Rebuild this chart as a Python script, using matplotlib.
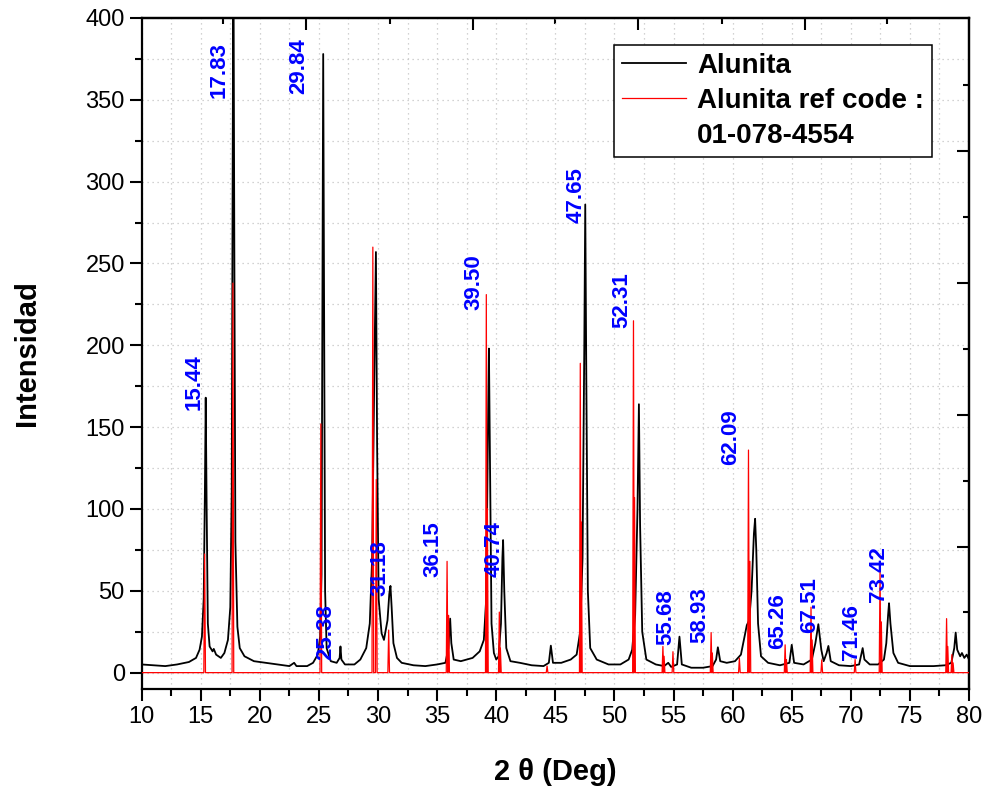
import numpy as np
import matplotlib
matplotlib.use('Agg')
import matplotlib.pyplot as plt
from matplotlib.lines import Line2D

plt.rcParams['font.family'] = ['Liberation Sans', 'DejaVu Sans']

meas_2theta = [10.0, 11.0, 12.0, 13.0, 14.0, 14.6, 14.9, 15.1, 15.25, 15.35, 15.42, 15.5, 15.6, 15.75,
               16.0, 16.1, 16.3, 16.7, 17.0, 17.3, 17.5, 17.62, 17.7, 17.76, 17.84, 17.93, 18.1, 18.3,
               18.7, 19.5, 20.5, 21.5, 22.5, 22.9, 23.1, 24.0, 24.5, 24.9, 25.1, 25.22, 25.3, 25.36,
               25.43, 25.52, 25.65, 26.0, 26.5, 26.75, 26.82, 26.9, 27.2, 28.0, 28.5, 29.0, 29.3, 29.5,
               29.68, 29.82, 29.92, 30.05, 30.3, 30.5, 30.8, 30.95, 31.05, 31.15, 31.3, 31.6, 32.0,
               33.0, 34.0, 35.0, 35.7, 35.95, 36.1, 36.2, 36.4, 37.0, 38.0, 38.6, 38.95, 39.15, 39.3,
               39.38, 39.48, 39.6, 39.8, 40.0, 40.2, 40.4, 40.52, 40.58, 40.68, 40.85, 41.2, 42.0,
               43.0, 44.0, 44.45, 44.62, 44.8, 45.5, 46.3, 46.8, 47.1, 47.3, 47.45, 47.53, 47.62,
               47.75, 47.95, 48.5, 49.5, 50.5, 51.2, 51.5, 51.75, 51.95, 52.07, 52.17, 52.35, 52.7,
               53.5, 54.2, 54.55, 54.8, 55.3, 55.5, 55.7, 56.5, 57.5, 58.3, 58.6, 58.75, 58.95, 59.5,
               60.2, 60.7, 61.0, 61.2, 61.4, 61.6, 61.8, 61.9, 62.0, 62.15, 62.4, 63.0, 64.0, 64.8,
               65.0, 65.2, 66.0, 66.7, 67.0, 67.25, 67.5, 67.7, 67.95, 68.1, 68.3, 69.0, 70.0, 70.7,
               70.85, 71.0, 71.15, 71.6, 72.3, 72.8, 73.0, 73.15, 73.23, 73.35, 73.6, 74.0, 75.0,
               76.0, 77.0, 78.0, 78.5, 78.75, 78.87, 79.0, 79.25, 79.4, 79.6, 79.8, 80.0]
meas_counts = [5, 4.5, 4, 5, 6.5, 9, 14, 22, 45, 110, 168, 100, 30, 16,
               13, 14.5, 11, 9, 12, 20, 40, 110, 300, 460, 260, 80, 28, 15,
               10, 7, 6, 5, 4, 6, 4, 4, 6, 11, 22, 60, 250, 378,
               240, 50, 15, 7, 6, 9, 16, 8, 5, 5, 8, 15, 30, 70,
               180, 257, 140, 45, 24, 20, 32, 48, 53, 40, 18, 9, 6,
               4.5, 4, 5, 6, 15, 33, 18, 8, 7, 9, 13, 20, 45, 150,
               198, 120, 30, 12, 8, 10, 30, 70, 81, 50, 15, 7, 6,
               4.5, 4, 6, 16.5, 6, 6, 8, 11, 25, 70, 200, 286, 180,
               50, 15, 8, 5, 5, 8, 14, 35, 100, 164, 90, 25, 8,
               5, 4, 6, 3.5, 5, 22, 5, 3, 3, 4, 8, 15.5, 7, 6,
               7, 11, 22, 29, 32, 50, 85, 94, 75, 30, 10, 6, 4.5, 6,
               17, 6, 5, 8, 18, 29.6, 14, 7, 12, 16.3, 7, 4.5, 4, 5,
               10, 15, 8, 5, 5, 8, 18, 35, 42.4, 30, 12, 6, 4,
               4, 4, 4.5, 6, 15, 24.5, 14, 10, 12, 9, 11, 8]

# reference card 01-078-4554 (position, intensity)
ref_2theta = [15.33, 17.72, 25.16, 29.56, 29.85, 30.9, 35.84, 35.97, 39.16, 39.25, 40.26, 40.35,
              44.3, 47.11, 47.2, 51.61, 51.7, 54.1, 54.2, 54.95, 58.18, 58.28, 60.57, 61.34,
              61.46, 64.44, 64.55, 66.63, 66.72, 67.54, 70.36, 72.47, 72.58, 78.1, 78.2, 78.55, 78.65]
ref_int = [72.5, 238, 152, 260, 118, 26, 68, 35, 231, 100, 37, 15,
           4, 189, 92, 215, 107, 16, 10, 12.8, 24.5, 12, 8.8, 136,
           68, 17, 8, 40, 20, 7.8, 8, 62, 31, 33, 16, 11, 6]

# peak annotations (text, x, y of text bottom)
peak_labels = ['15.44', '17.83', '29.84', '25.38', '31.18', '36.15', '39.50', '40.74', '47.65',
               '52.31', '55.68', '58.93', '62.09', '65.26', '67.51', '71.46', '73.42']
label_x = [14.40, 16.52, 23.32, 25.58, 30.18, 34.67, 38.14, 39.83, 46.75,
           50.64, 54.37, 57.19, 59.87, 63.83, 66.50, 70.03, 72.38]
label_y = [160.5, 351, 353.5, 7.8, 46.8, 58.3, 221.6, 58.7, 274.5,
           210.4, 17, 18, 126.9, 14.3, 24.4, 7.8, 43.4]

# ticks of the top / right frame (Origin linked axes)
top_major = [23.9, 38.0, 52.0, 66.1]
top_minor = [16.9, 31.0, 45.0, 59.1, 73.1]
right_major = [77, 157.4, 238, 318.8]
right_minor = [37, 117, 197.8, 278.5, 358.8]

fig = plt.figure(figsize=(9.83, 7.86), dpi=100)
ax = fig.add_axes([0.1441, 0.1234, 0.8417, 0.8537])

# stick pattern drawn as narrow triangles on a zero baseline
hw = 0.07
pos = np.asarray(ref_2theta)
hgt = np.asarray(ref_int)
rx = np.column_stack([pos - hw, pos, pos + hw]).ravel()
ry = np.column_stack([np.zeros_like(hgt), hgt, np.zeros_like(hgt)]).ravel()
rx = np.concatenate([[10.0], rx, [80.0]])
ry = np.concatenate([[0.0], ry, [0.0]])

l_meas, = ax.plot(meas_2theta, meas_counts, color='black', lw=1.3, zorder=3)
l_ref, = ax.plot(rx, ry, color='red', lw=0.9, zorder=4)

for t, x, y in zip(peak_labels, label_x, label_y):
    ax.text(x, y, t, rotation=90, ha='center', va='bottom', color='blue',
            fontsize=16, fontweight='bold', zorder=5)

ax.set_xlim(10, 80)
ax.set_ylim(-10, 400)
ax.set_xticks(np.arange(10, 81, 5))
ax.set_xticks(np.arange(10, 80.1, 2.5), minor=True)
ax.set_yticks(np.arange(0, 401, 50))
ax.set_yticks(np.arange(0, 401, 25), minor=True)
ax.grid(which='both', ls=(0, (1, 3)), color='#c4c4c4', lw=0.9, zorder=0)
ax.tick_params(which='major', direction='out', length=8.6, width=1.5, labelsize=17,
               top=False, right=False)
ax.tick_params(which='minor', direction='out', length=4.8, width=1.5, top=False, right=False)
for s in ax.spines.values():
    s.set_linewidth(1.6)

sx = ax.secondary_xaxis('top')
sx.set_xticks(top_major, labels=[])
sx.set_xticks(top_minor, minor=True)
sx.tick_params(which='major', direction='in', length=8.6, width=1.5)
sx.tick_params(which='minor', direction='in', length=4, width=1.5)
sx.spines['top'].set_linewidth(1.6)

sy = ax.secondary_yaxis('right')
sy.set_yticks(right_major, labels=[])
sy.set_yticks(right_minor, minor=True)
sy.tick_params(which='major', direction='in', length=8.6, width=1.5)
sy.tick_params(which='minor', direction='in', length=4.5, width=1.5)
sy.spines['right'].set_linewidth(1.6)

ax.set_xlabel('2 θ (Deg)', fontsize=21, fontweight='bold', labelpad=22)
ax.set_ylabel('Intensidad', fontsize=21, fontweight='bold', labelpad=32)

blank = Line2D([], [], color='none')
leg = ax.legend([l_meas, l_ref, blank], ['Alunita', 'Alunita ref code :', '01-078-4554'],
                loc='upper left', bbox_to_anchor=(0.5707, 0.9604), borderaxespad=0,
                prop={'size': 20, 'weight': 'bold'}, frameon=True, fancybox=False,
                framealpha=1, edgecolor='black', labelspacing=0.32, handlelength=2.3,
                handletextpad=0.4, borderpad=0.3)
leg.get_frame().set_linewidth(1.1)
leg.set_zorder(6)

fig.savefig('out.png', dpi=100)
